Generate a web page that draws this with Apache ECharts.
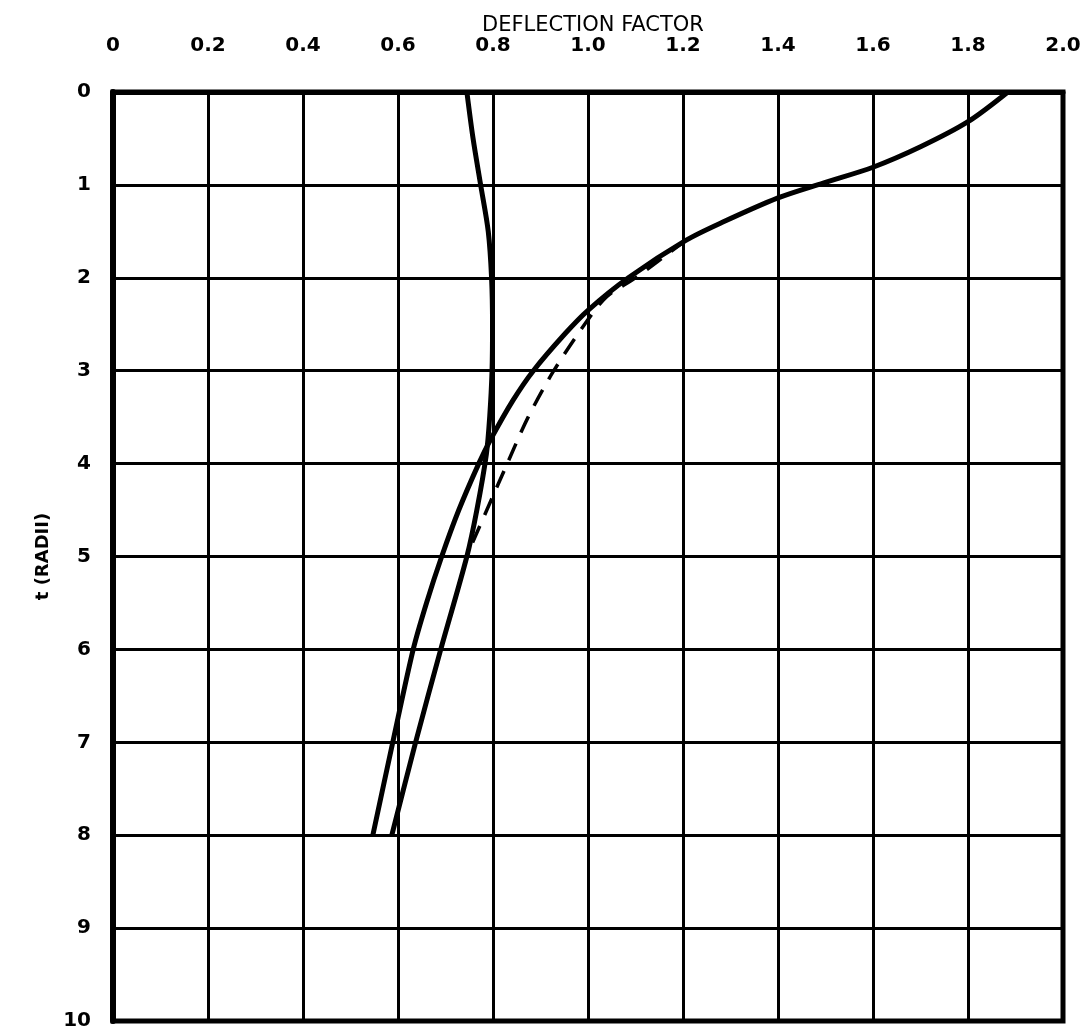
<!DOCTYPE html>
<html>
<head>
<meta charset="utf-8">
<script src="https://cdn.jsdelivr.net/npm/echarts@6/dist/echarts.min.js"></script>
<style>
    html, body { margin: 0; padding: 0; background: #fff; }
    #chart { width: 1089px; height: 1031px; }
</style>
</head>
<body>
<div id="chart"></div>
<script>
    // curve A: near-vertical line around 0.8
    var depthA = [0, 0.5, 1.0, 1.5, 2.0, 2.5, 3.0, 3.5, 3.9, 4.5, 5, 6, 7, 8];
    var factorA = [0.745, 0.758, 0.774, 0.790, 0.797, 0.799, 0.798, 0.793, 0.786, 0.766, 0.745, 0.690, 0.637, 0.587];

    // curve B: solid, from 1.88 at the top
    var depthB = [0, 0.32, 0.59, 0.81, 0.98, 1.14, 1.40, 1.60, 2.0, 2.35, 2.6, 3.0, 3.32, 3.75, 4.0, 4.5, 5, 5.5, 6, 7, 8];
    var factorB = [1.884, 1.80, 1.70, 1.60, 1.495, 1.40, 1.284, 1.205, 1.085, 1.0, 0.952, 0.885, 0.842, 0.794, 0.770, 0.728, 0.692, 0.660, 0.632, 0.589, 0.547];

    // curve C: dashed, leaves B near 1.6
    var depthC = [1.6, 2.0, 2.2, 2.45, 3.0, 3.5, 4.0, 4.5, 4.85];
    var factorC = [1.205, 1.10, 1.04, 1.0, 0.928, 0.874, 0.830, 0.787, 0.757];

    var xTicks = [0, 0.2, 0.4, 0.6, 0.8, 1.0, 1.2, 1.4, 1.6, 1.8, 2.0];
    var yTicks = [0, 1, 2, 3, 4, 5, 6, 7, 8, 9, 10];

    function pairs(xs, ys) {
        var out = [];
        for (var i = 0; i < xs.length; i++) {
            out.push([xs[i], ys[i]]);
        }
        return out;
    }

    var labelFont = {
        color: '#000',
        fontFamily: 'DejaVu Sans',
        fontSize: 20,
        fontWeight: 'bold'
    };

    function curve(name, xs, ys, width, dash) {
        return {
            name: name,
            type: 'line',
            data: pairs(xs, ys),
            smooth: 0.3,
            symbol: 'none',
            lineStyle: { color: '#000', width: width, type: dash || 'solid' }
        };
    }

    var chart = echarts.init(document.getElementById('chart'));
    var option = {
        animation: false,
        backgroundColor: '#fff',
        title: {
            text: 'DEFLECTION FACTOR',
            left: 588,
            top: 10,
            textAlign: 'center',
            textStyle: {
                color: '#000',
                fontFamily: 'DejaVu Sans',
                fontSize: 21,
                fontWeight: 'normal'
            }
        },
        grid: {
            left: 113,
            right: 26,
            top: 92,
            bottom: 10,
            show: true,
            borderColor: '#000',
            borderWidth: 5
        },
        xAxis: {
            type: 'value',
            position: 'top',
            min: xTicks[0],
            max: xTicks[xTicks.length - 1],
            interval: 0.2,
            axisLine: { show: true, lineStyle: { color: '#000', width: 5 } },
            axisTick: { show: false },
            axisLabel: Object.assign({
                margin: 36,
                formatter: function (v) {
                    return v === 0 ? '0' : v.toFixed(1);
                }
            }, labelFont),
            splitLine: { show: true, lineStyle: { color: '#000', width: 3 } }
        },
        yAxis: {
            type: 'value',
            inverse: true,
            min: yTicks[0],
            max: yTicks[yTicks.length - 1],
            interval: 1,
            name: 't (RADII)',
            nameLocation: 'middle',
            nameGap: 58,
            nameRotate: 90,
            nameTextStyle: {
                color: '#000',
                fontFamily: 'DejaVu Sans',
                fontSize: 18,
                fontWeight: 'bold'
            },
            axisLine: { show: true, lineStyle: { color: '#000', width: 6 } },
            axisTick: { show: false },
            axisLabel: Object.assign({ margin: 22 }, labelFont),
            splitLine: { show: true, lineStyle: { color: '#000', width: 3 } }
        },
        series: [
            curve('A', factorA, depthA, 5),
            curve('B', factorB, depthB, 5),
            curve('C', factorC, depthC, 3.5, [18, 12])
        ]
    };
    chart.setOption(option);
</script>
</body>
</html>
